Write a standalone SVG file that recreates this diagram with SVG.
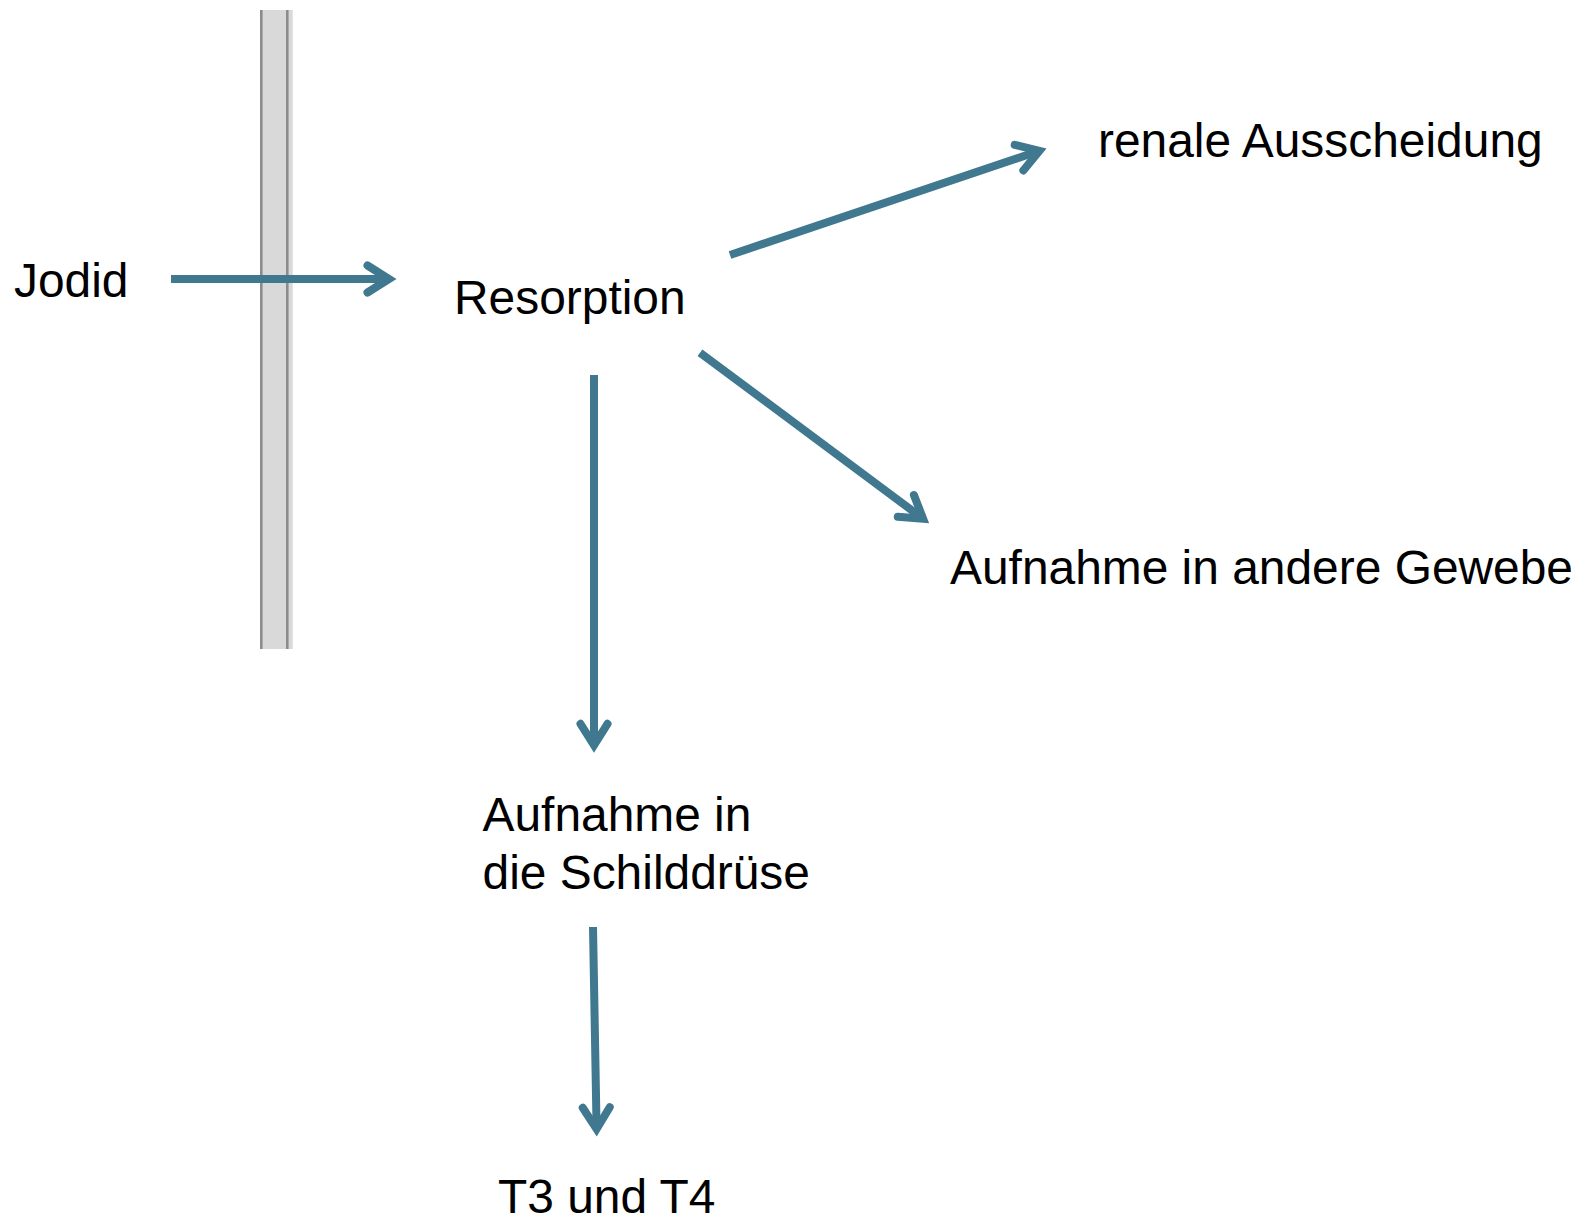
<svg xmlns="http://www.w3.org/2000/svg" width="1583" height="1226" viewBox="0 0 1583 1226">
<style>
  .lbl { font-family: "Liberation Sans", Arial, sans-serif; font-size: 47.9px; fill: #000000; }
  .conn { stroke: #40788F; stroke-width: 8; fill: none; stroke-linecap: butt; }
  .mem-line { stroke: #8C8C8C; stroke-width: 2.6; }
</style>
<defs>
  <marker id="arrow" markerUnits="userSpaceOnUse" orient="auto" refX="0" refY="0" markerWidth="60" markerHeight="60" overflow="visible">
    <path d="M-21.5,-13.5 L0,0 L-21.5,13.5" fill="none" stroke="#40788F" stroke-width="8" stroke-linecap="round" stroke-linejoin="miter"/>
  </marker>
</defs>
<rect width="1583" height="1226" fill="#ffffff"/>
<g id="membrane">
  <rect x="260" y="10" width="32.7" height="639" fill="#D9D9D9"/>
  <line class="mem-line" x1="261.3" y1="10" x2="261.3" y2="649"/>
  <line class="mem-line" x1="287.3" y1="10" x2="287.3" y2="649"/>
</g>
<g id="connectors">
  <line class="conn" x1="171" y1="279" x2="389" y2="279" marker-end="url(#arrow)"/>
  <line class="conn" x1="730" y1="255" x2="1039.4" y2="150.8" marker-end="url(#arrow)"/>
  <line class="conn" x1="594" y1="375" x2="594" y2="745.3" marker-end="url(#arrow)"/>
  <line class="conn" x1="700" y1="352.7" x2="923.1" y2="518.7" marker-end="url(#arrow)"/>
  <line class="conn" x1="593" y1="927" x2="596.6" y2="1129" marker-end="url(#arrow)"/>
</g>
<g id="node-jodid"><text class="lbl" x="14" y="297">Jodid</text></g>
<g id="node-resorption"><text class="lbl" x="454" y="314">Resorption</text></g>
<g id="node-renal"><text class="lbl" x="1098" y="156.5">renale Ausscheidung</text></g>
<g id="node-gewebe"><text class="lbl" x="950" y="583.5">Aufnahme in andere Gewebe</text></g>
<g id="node-schilddruese"><text class="lbl" x="482.5" y="831">Aufnahme in</text><text class="lbl" x="482.5" y="888.5">die Schilddrüse</text></g>
<g id="node-t3t4"><text class="lbl" x="498" y="1213">T3 und T4</text></g>
</svg>
